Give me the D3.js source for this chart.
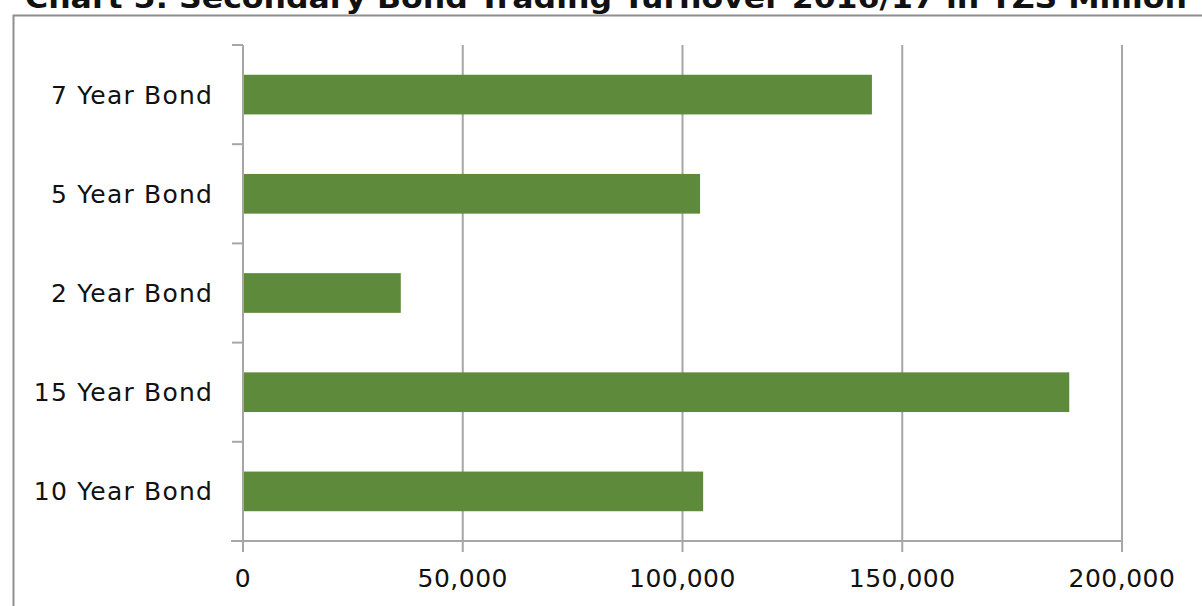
<!DOCTYPE html>
<html><head><meta charset="utf-8">
<script src="https://cdn.jsdelivr.net/npm/d3@7"></script>
<style>body{margin:0;background:#fff}svg{display:block}</style>
</head><body>
<script>
const titleText = "Chart 5: Secondary Bond Trading Turnover 2016/17 in TZS Million";
const categories = ["7 Year Bond","5 Year Bond","2 Year Bond","15 Year Bond","10 Year Bond"];
const values = [143100, 104000, 35900, 188000, 104700];
const xTicks = [0, 50000, 100000, 150000, 200000];

(function () {
const W = 1202, H = 606;
const svg = d3.select("body").append("svg").attr("width", W).attr("height", H);
const font = "'DejaVu Sans', Verdana, sans-serif";

// outer chart frame
svg.append("rect").attr("x", 13.5).attr("y", 15.5).attr("width", 1210).attr("height", 610)
  .attr("fill", "#fff").attr("stroke", "#8e8e8e").attr("stroke-width", 2);

// title (cut off at top, as in the reference)
svg.append("text").attr("x", 25).attr("y", 8)
  .attr("textLength", 1162).attr("lengthAdjust", "spacingAndGlyphs")
  .attr("font-family", font).attr("font-weight", "bold").attr("font-size", 28)
  .attr("fill", "#111").text(titleText);

const pL = 243, pR = 1122, pT = 45, pB = 541;
const x = d3.scaleLinear().domain([0, 200000]).range([pL, pR]);
const y = d3.scaleBand().domain(categories).range([pT, pB]).paddingInner(0.6).paddingOuter(0.3);

// gridlines
svg.append("g").selectAll("line").data(xTicks.slice(1)).join("line")
  .attr("x1", d => x(d)).attr("x2", d => x(d)).attr("y1", pT).attr("y2", pB)
  .attr("stroke", "#a6a6a6").attr("stroke-width", 2);

// bars
svg.append("g").selectAll("rect").data(categories).join("rect")
  .attr("x", x(0)).attr("y", d => y(d))
  .attr("width", (d, i) => x(values[i]) - x(0)).attr("height", y.bandwidth())
  .attr("fill", "#5e8a3c");

// y axis
const yBounds = d3.range(categories.length + 1).map(i => pT + i * (pB - pT) / categories.length);
svg.append("line").attr("x1", pL).attr("x2", pL).attr("y1", pT).attr("y2", pB + 11)
  .attr("stroke", "#a6a6a6").attr("stroke-width", 2);
svg.append("g").selectAll("line").data(yBounds).join("line")
  .attr("x1", pL - 11).attr("x2", pL).attr("y1", d => d).attr("y2", d => d)
  .attr("stroke", "#a6a6a6").attr("stroke-width", 2);
svg.append("g").selectAll("text").data(categories).join("text")
  .attr("x", 213).attr("y", d => y(d) + y.bandwidth() / 2)
  .attr("dy", "0.36em").attr("text-anchor", "end")
  .attr("letter-spacing", 1.2)
  .attr("font-family", font).attr("font-size", 25).attr("fill", "#111").text(d => d);

// x axis
svg.append("line").attr("x1", pL - 12).attr("x2", pR).attr("y1", pB).attr("y2", pB)
  .attr("stroke", "#a6a6a6").attr("stroke-width", 2);
svg.append("g").selectAll("line").data(xTicks).join("line")
  .attr("x1", d => x(d)).attr("x2", d => x(d)).attr("y1", pB).attr("y2", pB + 11)
  .attr("stroke", "#a6a6a6").attr("stroke-width", 2);
svg.append("g").selectAll("text").data(xTicks).join("text")
  .attr("x", d => x(d)).attr("y", 587).attr("text-anchor", "middle")
  .attr("letter-spacing", 0.5)
  .attr("font-family", font).attr("font-size", 25).attr("fill", "#111")
  .text(d => d3.format(",")(d));
})();
</script>
</body></html>
